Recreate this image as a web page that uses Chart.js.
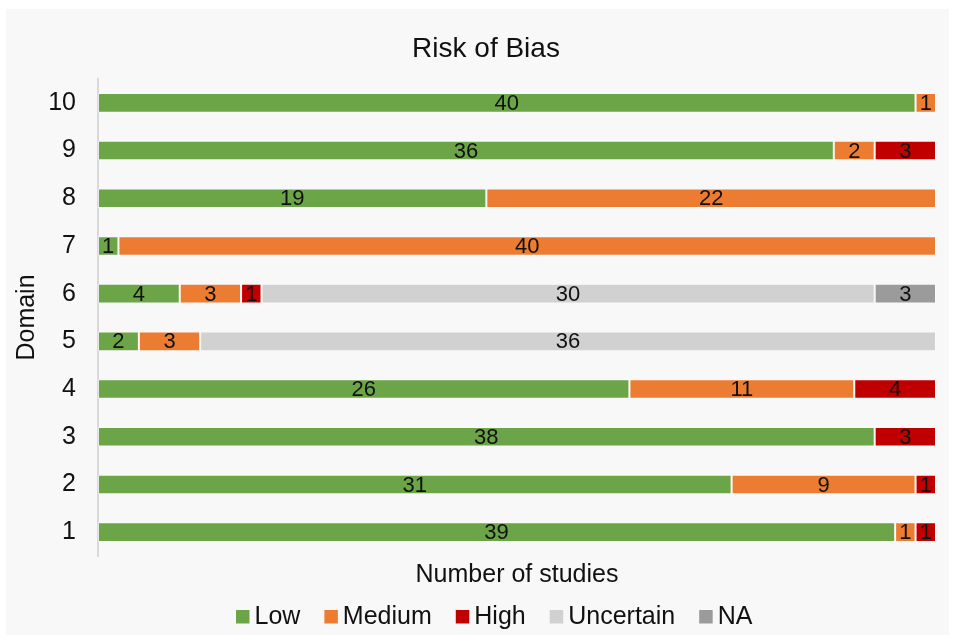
<!DOCTYPE html>
<html>
<head>
<meta charset="utf-8">
<script src="https://cdn.jsdelivr.net/npm/chart.js@4/dist/chart.umd.min.js"></script>
<style>
  html, body { margin: 0; padding: 0; background: #ffffff; }
  #wrap { width: 955px; height: 643px; }
</style>
</head>
<body>
<div id="wrap"><canvas id="chart" width="955" height="643"></canvas></div>
<script>
// Risk of bias per domain: number of studies in each rating
const domains   = ['1', '2', '3', '4', '5', '6', '7', '8', '9', '10'];
const low       = [39, 31, 38, 26, 2, 4, 1, 19, 36, 40];
const medium    = [1, 9, 0, 11, 3, 3, 40, 22, 2, 1];
const high      = [1, 1, 3, 4, 0, 1, 0, 0, 3, 0];
const uncertain = [0, 0, 0, 0, 36, 30, 0, 0, 0, 0];
const na        = [0, 0, 0, 0, 0, 3, 0, 0, 0, 0];
const totalStudies = 41;

const FONT = '"Liberation Sans", Arial, Helvetica, sans-serif';

const series = [
  { label: 'Low',       values: low,       color: '#6ba547' },
  { label: 'Medium',    values: medium,    color: '#ec7c31' },
  { label: 'High',      values: high,      color: '#c00000' },
  { label: 'Uncertain', values: uncertain, color: '#d0d1d0' },
  { label: 'NA',        values: na,        color: '#9b9b9b' }
];

// panel background, title, custom legend and segment value labels
const decor = {
  id: 'decor',
  beforeDraw(chart) {
    const ctx = chart.ctx;
    ctx.save();
    ctx.fillStyle = '#f8f8f8';
    ctx.fillRect(6, 9, 943, 626);
    ctx.restore();
  },
  afterDatasetsDraw(chart) {
    const ctx = chart.ctx;
    ctx.save();
    ctx.font = '22px ' + FONT;
    ctx.fillStyle = '#111111';
    ctx.textAlign = 'center';
    ctx.textBaseline = 'middle';
    chart.data.datasets.forEach((ds, di) => {
      const meta = chart.getDatasetMeta(di);
      meta.data.forEach((el, i) => {
        const v = ds.data[i];
        if (v === null || v === undefined || v <= 0) return;
        const p = el.getCenterPoint();
        ctx.fillText(String(v), p.x, p.y + 1);
      });
    });
    ctx.restore();
  },
  afterDraw(chart) {
    const ctx = chart.ctx;
    ctx.save();
    // chart title
    ctx.font = '28px ' + FONT;
    ctx.fillStyle = '#111111';
    ctx.textAlign = 'center';
    ctx.textBaseline = 'alphabetic';
    ctx.fillText('Risk of Bias', 486, 57);

    // legend row
    ctx.font = '25px ' + FONT;
    ctx.textAlign = 'left';
    let x = 236;
    const box = 13.5;
    series.forEach(s => {
      ctx.fillStyle = s.color;
      ctx.fillRect(x, 610, box, box);
      ctx.fillStyle = '#111111';
      ctx.fillText(s.label, x + box + 5, 624);
      x += box + 5 + ctx.measureText(s.label).width + 24;
    });
    ctx.restore();
  }
};

new Chart(document.getElementById('chart'), {
  type: 'bar',
  data: {
    labels: domains,
    datasets: series.map(s => ({
      label: s.label,
      data: s.values.map(v => (v > 0 ? v : null)),
      backgroundColor: s.color,
      borderColor: 'rgba(255,255,255,0.45)',
      borderWidth: 1,
      borderSkipped: false,
      categoryPercentage: 1,
      barPercentage: 0.41
    }))
  },
  options: {
    indexAxis: 'y',
    responsive: false,
    animation: false,
    devicePixelRatio: 1,
    layout: { padding: { top: 79, bottom: 53, left: 6, right: 19 } },
    plugins: {
      legend: { display: false },
      title: { display: false },
      tooltip: { enabled: false }
    },
    scales: {
      x: {
        stacked: true,
        min: 0,
        max: totalStudies,
        grid: { display: false, drawTicks: false },
        border: { display: false },
        ticks: { display: false },
        title: {
          display: true,
          text: 'Number of studies',
          color: '#111111',
          font: { family: FONT, size: 25, lineHeight: 1.2 },
          padding: { top: 4, bottom: 0 }
        }
      },
      y: {
        stacked: true,
        reverse: true,
        grid: { display: false, drawTicks: false },
        border: { display: true, color: '#d9d9d9', width: 2 },
        ticks: {
          color: '#111111',
          font: { family: FONT, size: 25 },
          padding: 22
        },
        title: {
          display: true,
          text: 'Domain',
          color: '#111111',
          font: { family: FONT, size: 25, lineHeight: 1.2 },
          padding: { top: 6, bottom: 0 }
        },
        afterFit(scale) { scale.width = 92; }
      }
    }
  },
  plugins: [decor]
});
</script>
</body>
</html>
